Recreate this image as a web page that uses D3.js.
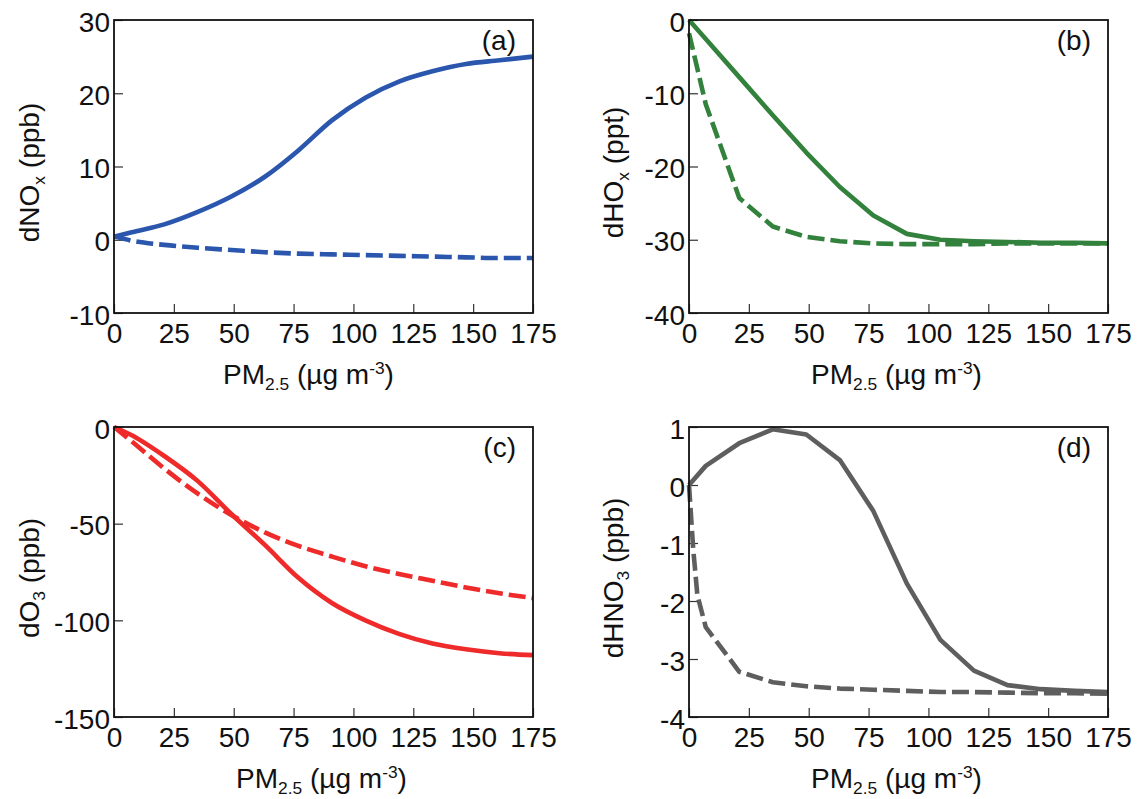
<!DOCTYPE html>
<html>
<head>
<meta charset="utf-8">
<script src="https://cdn.jsdelivr.net/npm/d3@7"></script>
<style>
  body { margin: 0; background: #fff; }
  svg { font-family: Arial, 'Liberation Sans', Helvetica, sans-serif; display: block; }
</style>
</head>
<body>
<svg id="fig" width="1142" height="799"></svg>
<script>

// 1. data (PM2.5 in ug m-3)
const pm_x = [0, 7, 21, 35, 49, 63, 77, 91, 105, 119, 133, 147, 161, 175];
const pm_x_fine = [0, 1.75, 3.5, 7, 21, 35, 49, 63, 77, 91, 105, 119, 133, 147, 161, 175];
const x_ticks = [0, 25, 50, 75, 100, 125, 150, 175];

// (a) dNOx, ppb
const nox_solid  = [0.4, 1.0, 2.1, 3.8, 5.9, 8.6, 12.2, 16.3, 19.4, 21.6, 23.0, 24.0, 24.5, 25.0];
const nox_dashed = [0.5, -0.1, -0.7, -1.1, -1.4, -1.7, -1.9, -2.0, -2.1, -2.2, -2.3, -2.4, -2.5, -2.5];
const nox_ticks  = [-10, 0, 10, 20, 30];

// (b) dHOx, ppt
const hox_solid  = [0, -2.6, -7.8, -13.0, -18.1, -22.8, -26.7, -29.2, -30.0, -30.2, -30.3, -30.4, -30.4, -30.5];
const hox_dashed = [-1.8, -11.5, -24.3, -28.2, -29.6, -30.2, -30.5, -30.6, -30.6, -30.6, -30.5, -30.5, -30.5, -30.5];
const hox_ticks  = [-40, -30, -20, -10, 0];

// (c) dO3, ppb
const o3_solid  = [0, -4, -15, -28, -45, -61, -78, -91, -100, -107, -112, -115, -117, -118];
const o3_dashed = [0, -7, -21.5, -34.5, -45.5, -54.5, -61.5, -67, -72, -76, -79.5, -83, -86, -88.5];
const o3_ticks  = [-150, -100, -50, 0];

// (d) dHNO3, ppb
const hno3_solid  = [0, 0.33, 0.72, 0.96, 0.87, 0.43, -0.45, -1.7, -2.67, -3.2, -3.45, -3.52, -3.55, -3.57];
const hno3_dashed = [0, -1.1, -1.9, -2.45, -3.22, -3.40, -3.47, -3.51, -3.53, -3.55, -3.57, -3.57, -3.58, -3.59, -3.59, -3.6];
const hno3_ticks  = [-4, -3, -2, -1, 0, 1];

// 2. panel layout
const FS = 28;
const panels = [
  { tag: '(a)', box: [114, 20, 533, 313], ylim: [-10, 30], yticks: nox_ticks, color: '#2a56ae',
    ylab: [{t: 'dNO'}, {t: 'x', sub: true}, {t: ' (ppb)'}], ylab_x: 39, xlab_dx: -15, smooth: true,
    lines: [{x: pm_x, y: nox_solid}, {x: pm_x, y: nox_dashed, dash: true}] },
  { tag: '(b)', box: [689, 20, 1108, 313], ylim: [-40, 0], yticks: hox_ticks, color: '#32813c',
    ylab: [{t: 'dHO'}, {t: 'x', sub: true}, {t: ' (ppt)'}], ylab_x: 623, xlab_dx: -2,
    lines: [{x: pm_x, y: hox_solid}, {x: pm_x, y: hox_dashed, dash: true}] },
  { tag: '(c)', box: [114, 427, 533, 717], ylim: [-150, 0], yticks: o3_ticks, color: '#ef2a2a',
    ylab: [{t: 'dO'}, {t: '3', sub: true}, {t: ' (ppb)'}], ylab_x: 39, xlab_dx: -2, smooth: true,
    lines: [{x: pm_x, y: o3_solid}, {x: pm_x, y: o3_dashed, dash: true}] },
  { tag: '(d)', box: [689, 427, 1108, 717], ylim: [-4, 1], yticks: hno3_ticks, color: '#5e5e5e',
    ylab: [{t: 'dHNO'}, {t: '3', sub: true}, {t: ' (ppb)'}], ylab_x: 623, xlab_dx: -2,
    lines: [{x: pm_x, y: hno3_solid}, {x: pm_x_fine, y: hno3_dashed, dash: true}] }
];

const xlab = [{t: 'PM'}, {t: '2.5', sub: true}, {t: ' (\u00b5g m'}, {t: '-3', sup: true}, {t: ')'}];

// 3. helpers
function rich_text(el, parts){
  // parts: plain / sub / sup pieces, shifts undone on the next piece
  let shift = 0;
  parts.forEach((p) => {
    let target = p.sub ? 6 : (p.sup ? -10 : 0);
    el.append('tspan')
      .attr('dy', target - shift)
      .attr('font-size', (p.sub || p.sup) ? FS * 0.62 : FS)
      .text(p.t);
    shift = target;
  });
  return el;
}

// plain hyphen minus like the original figure
const fmt = (d) => String(d);

const svg = d3.select('#fig');

function draw_panel(p){
  const [x0, y0, x1, y1] = p.box;
  const g = svg.append('g');

  const x_scale = d3.scaleLinear().domain([0, 175]).range([x0, x1]);
  const y_scale = d3.scaleLinear().domain(p.ylim).range([y1, y0]);

  // axes, ticks pointing inward
  const ax_b = g.append('g')
    .attr('transform', `translate(0, ${y1})`)
    .call(d3.axisBottom(x_scale).tickValues(x_ticks).tickFormat(fmt)
      .tickSizeInner(-9).tickSizeOuter(0).tickPadding(10));
  const ax_l = g.append('g')
    .attr('transform', `translate(${x0}, 0)`)
    .call(d3.axisLeft(y_scale).tickValues(p.yticks).tickFormat(fmt)
      .tickSizeInner(-9).tickSizeOuter(0).tickPadding(4));

  [ax_b, ax_l].forEach((a) => {
    a.attr('font-size', FS).attr('font-family', null);
    a.select('.domain').remove();
    a.selectAll('.tick line').attr('stroke', '#333').attr('stroke-width', 1.2);
    a.selectAll('.tick text').attr('fill', '#111');
  });
  ax_l.selectAll('.tick text').attr('dy', '0.4em');

  // lines
  const line_gen = (xs) => d3.line()
    .x((d, i) => x_scale(xs[i]))
    .y((d) => y_scale(d))
    .curve(p.smooth ? d3.curveMonotoneX : d3.curveLinear);

  p.lines.forEach((l) => {
    g.append('path')
      .attr('d', line_gen(l.x)(l.y))
      .attr('fill', 'none')
      .attr('stroke', p.color)
      .attr('stroke-width', 4.6)
      .attr('stroke-linejoin', 'round')
      .attr('stroke-dasharray', l.dash ? '17,6' : null);
  });

  // frame
  g.append('rect')
    .attr('x', x0).attr('y', y0)
    .attr('width', x1 - x0).attr('height', y1 - y0)
    .attr('fill', 'none')
    .attr('stroke', '#111')
    .attr('stroke-width', 1.8);

  // panel tag
  g.append('text')
    .attr('x', x1 - 17).attr('y', y0 + 30)
    .attr('text-anchor', 'end')
    .attr('font-size', FS)
    .attr('fill', '#111')
    .text(p.tag);

  // axis titles
  rich_text(g.append('text')
    .attr('x', (x0 + x1) / 2 + p.xlab_dx).attr('y', y1 + 71)
    .attr('text-anchor', 'middle')
    .attr('fill', '#111'), xlab);

  const cy = (y0 + y1) / 2 + 6;
  rich_text(g.append('text')
    .attr('transform', `translate(${p.ylab_x}, ${cy}) rotate(-90)`)
    .attr('text-anchor', 'middle')
    .attr('fill', '#111'), p.ylab);
}

panels.forEach(draw_panel);

</script>
</body>
</html>
